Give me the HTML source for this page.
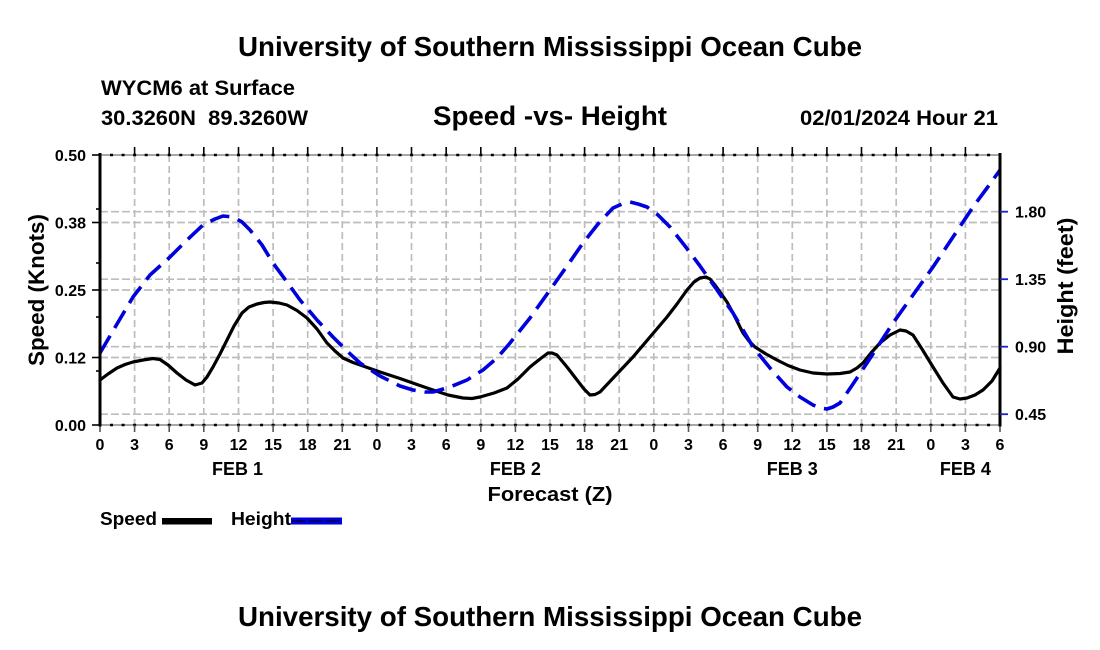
<!DOCTYPE html>
<html>
<head>
<meta charset="utf-8">
<style>
  html,body{margin:0;padding:0;background:#fff;}
  svg{display:block;}
  text{font-family:"Liberation Sans","Helvetica",Arial,sans-serif;font-weight:bold;fill:#000;}
</style>
</head>
<body>
<svg width="1100" height="650" viewBox="0 0 1100 650" xmlns="http://www.w3.org/2000/svg">
  <rect x="0" y="0" width="1100" height="650" fill="#fff"/>

  <!-- Titles -->
  <text x="550" y="56" font-size="27.5" text-anchor="middle" textLength="624" lengthAdjust="spacingAndGlyphs">University of Southern Mississippi Ocean Cube</text>
  <text x="101" y="95" font-size="21.5" textLength="194" lengthAdjust="spacingAndGlyphs">WYCM6 at Surface</text>
  <text x="101" y="125" font-size="21.5" textLength="207" lengthAdjust="spacingAndGlyphs" xml:space="preserve">30.3260N  89.3260W</text>
  <text x="550" y="125" font-size="27" text-anchor="middle" textLength="234" lengthAdjust="spacingAndGlyphs">Speed -vs- Height</text>
  <text x="998" y="125" font-size="21.5" text-anchor="end" textLength="198" lengthAdjust="spacingAndGlyphs">02/01/2024 Hour 21</text>

  <!-- Grid: vertical -->
  <g stroke="#bdbdbd" stroke-width="1.7" stroke-dasharray="7,4" fill="none">
    <line x1="134.6" y1="155" x2="134.6" y2="425"/>
    <line x1="169.2" y1="155" x2="169.2" y2="425"/>
    <line x1="203.8" y1="155" x2="203.8" y2="425"/>
    <line x1="238.5" y1="155" x2="238.5" y2="425"/>
    <line x1="273.1" y1="155" x2="273.1" y2="425"/>
    <line x1="307.7" y1="155" x2="307.7" y2="425"/>
    <line x1="342.3" y1="155" x2="342.3" y2="425"/>
    <line x1="376.9" y1="155" x2="376.9" y2="425"/>
    <line x1="411.5" y1="155" x2="411.5" y2="425"/>
    <line x1="446.2" y1="155" x2="446.2" y2="425"/>
    <line x1="480.8" y1="155" x2="480.8" y2="425"/>
    <line x1="515.4" y1="155" x2="515.4" y2="425"/>
    <line x1="550" y1="155" x2="550" y2="425"/>
    <line x1="584.6" y1="155" x2="584.6" y2="425"/>
    <line x1="619.2" y1="155" x2="619.2" y2="425"/>
    <line x1="653.8" y1="155" x2="653.8" y2="425"/>
    <line x1="688.5" y1="155" x2="688.5" y2="425"/>
    <line x1="723.1" y1="155" x2="723.1" y2="425"/>
    <line x1="757.7" y1="155" x2="757.7" y2="425"/>
    <line x1="792.3" y1="155" x2="792.3" y2="425"/>
    <line x1="826.9" y1="155" x2="826.9" y2="425"/>
    <line x1="861.5" y1="155" x2="861.5" y2="425"/>
    <line x1="896.2" y1="155" x2="896.2" y2="425"/>
    <line x1="930.8" y1="155" x2="930.8" y2="425"/>
    <line x1="965.4" y1="155" x2="965.4" y2="425"/>
  </g>
  <!-- Grid: horizontal -->
  <g stroke="#bdbdbd" stroke-width="1.7" stroke-dasharray="8,3" fill="none">
    <line x1="100" y1="211.7" x2="1000" y2="211.7"/>
    <line x1="100" y1="222.5" x2="1000" y2="222.5"/>
    <line x1="100" y1="279.2" x2="1000" y2="279.2"/>
    <line x1="100" y1="290" x2="1000" y2="290"/>
    <line x1="100" y1="346.7" x2="1000" y2="346.7"/>
    <line x1="100" y1="357.5" x2="1000" y2="357.5"/>
    <line x1="100" y1="414.2" x2="1000" y2="414.2"/>
  </g>

  <!-- Top & bottom axes (gray line with black dots) -->
  <g fill="none">
    <line x1="100" y1="155" x2="1000" y2="155" stroke="#8a8a8a" stroke-width="1.5"/>
    <line x1="100" y1="155" x2="1000" y2="155" stroke="#000" stroke-width="2.5" stroke-dasharray="3,8.54" stroke-dashoffset="1.5"/>
    <line x1="100" y1="425" x2="1000" y2="425" stroke="#8a8a8a" stroke-width="1.5"/>
    <line x1="100" y1="425" x2="1000" y2="425" stroke="#000" stroke-width="2.5" stroke-dasharray="3,8.54" stroke-dashoffset="1.5"/>
  </g>

  <!-- Top ticks -->
  <g stroke="#000" stroke-width="1.6">
    <line x1="134.6" y1="147" x2="134.6" y2="155"/>
    <line x1="169.2" y1="147" x2="169.2" y2="155"/>
    <line x1="203.8" y1="147" x2="203.8" y2="155"/>
    <line x1="238.5" y1="147" x2="238.5" y2="155"/>
    <line x1="273.1" y1="147" x2="273.1" y2="155"/>
    <line x1="307.7" y1="147" x2="307.7" y2="155"/>
    <line x1="342.3" y1="147" x2="342.3" y2="155"/>
    <line x1="376.9" y1="147" x2="376.9" y2="155"/>
    <line x1="411.5" y1="147" x2="411.5" y2="155"/>
    <line x1="446.2" y1="147" x2="446.2" y2="155"/>
    <line x1="480.8" y1="147" x2="480.8" y2="155"/>
    <line x1="515.4" y1="147" x2="515.4" y2="155"/>
    <line x1="550" y1="147" x2="550" y2="155"/>
    <line x1="584.6" y1="147" x2="584.6" y2="155"/>
    <line x1="619.2" y1="147" x2="619.2" y2="155"/>
    <line x1="653.8" y1="147" x2="653.8" y2="155"/>
    <line x1="688.5" y1="147" x2="688.5" y2="155"/>
    <line x1="723.1" y1="147" x2="723.1" y2="155"/>
    <line x1="757.7" y1="147" x2="757.7" y2="155"/>
    <line x1="792.3" y1="147" x2="792.3" y2="155"/>
    <line x1="826.9" y1="147" x2="826.9" y2="155"/>
    <line x1="861.5" y1="147" x2="861.5" y2="155"/>
    <line x1="896.2" y1="147" x2="896.2" y2="155"/>
    <line x1="930.8" y1="147" x2="930.8" y2="155"/>
    <line x1="965.4" y1="147" x2="965.4" y2="155"/>
  </g>
  <!-- Bottom ticks -->
  <g stroke="#555" stroke-width="1.6">
    <line x1="100" y1="425" x2="100" y2="432"/>
    <line x1="134.6" y1="425" x2="134.6" y2="432"/>
    <line x1="169.2" y1="425" x2="169.2" y2="432"/>
    <line x1="203.8" y1="425" x2="203.8" y2="432"/>
    <line x1="238.5" y1="425" x2="238.5" y2="432"/>
    <line x1="273.1" y1="425" x2="273.1" y2="432"/>
    <line x1="307.7" y1="425" x2="307.7" y2="432"/>
    <line x1="342.3" y1="425" x2="342.3" y2="432"/>
    <line x1="376.9" y1="425" x2="376.9" y2="432"/>
    <line x1="411.5" y1="425" x2="411.5" y2="432"/>
    <line x1="446.2" y1="425" x2="446.2" y2="432"/>
    <line x1="480.8" y1="425" x2="480.8" y2="432"/>
    <line x1="515.4" y1="425" x2="515.4" y2="432"/>
    <line x1="550" y1="425" x2="550" y2="432"/>
    <line x1="584.6" y1="425" x2="584.6" y2="432"/>
    <line x1="619.2" y1="425" x2="619.2" y2="432"/>
    <line x1="653.8" y1="425" x2="653.8" y2="432"/>
    <line x1="688.5" y1="425" x2="688.5" y2="432"/>
    <line x1="723.1" y1="425" x2="723.1" y2="432"/>
    <line x1="757.7" y1="425" x2="757.7" y2="432"/>
    <line x1="792.3" y1="425" x2="792.3" y2="432"/>
    <line x1="826.9" y1="425" x2="826.9" y2="432"/>
    <line x1="861.5" y1="425" x2="861.5" y2="432"/>
    <line x1="896.2" y1="425" x2="896.2" y2="432"/>
    <line x1="930.8" y1="425" x2="930.8" y2="432"/>
    <line x1="965.4" y1="425" x2="965.4" y2="432"/>
    <line x1="1000" y1="425" x2="1000" y2="432"/>
  </g>

  <!-- Speed curve -->
  <path fill="none" stroke="#000" stroke-width="3.2" stroke-linejoin="round" stroke-linecap="round"
    d="M100,380 L108,374 L117,368 L125,364.5 L133,362 L143,360 L153,358.5 L160,359.5 L168,365 L177,373 L186,380 L195,385 L202,383 L207,377 L213,367 L220,354 L227,340 L234,326 L242,313 L249,307 L257,304 L264,302.5 L270,302 L279,303 L287,305 L297,310.5 L307,318 L317,329 L327,343 L335,351 L343,358 L353,362.5 L363,366 L380,372 L400,378.5 L417,384.5 L433,390 L448,395 L463,398 L472,398.5 L480,397 L494,393 L507,388 L518,379 L530,367 L540,359 L548,353 L552,353 L557,355 L567,367 L577,380 L584,389 L590,395 L595,394.5 L600,392 L616,375 L633,357 L650,337 L667,317 L677,304 L687,290 L694,282 L700,278 L706,277 L710,279 L715,285 L720,292 L727,302 L733,313 L738,323 L743,333 L749,341 L755,347 L766,354 L777,360 L788,365.5 L800,370 L813,373 L827,374 L840,373.5 L850,372 L857,368 L863,363 L871,353 L880,343 L890,335 L900,330 L906,331 L913,335 L922,349 L933,367 L943,383 L953,397 L960,399 L967,398 L975,395 L983,390 L992,381 L1000,368"/>

  <!-- Height curve -->
  <path fill="none" stroke="#0000dd" stroke-width="3.6" stroke-dasharray="20,9" stroke-linejoin="round"
    d="M100,353 L117,324 L133,297 L150,275 L170,257 L187,240 L203,225 L215,219 L223,216 L233,217 L242,222 L250,230 L262,245 L273,263 L287,282 L300,300 L317,320 L333,337 L347,351 L360,363 L380,376 L400,386 L413,390 L425,392 L433,392 L450,387 L467,380 L483,370 L497,358 L510,343 L530,318 L550,290 L567,266 L583,243 L598,224 L613,208 L622,204 L630,202 L638,204 L647,207 L658,215 L670,227 L685,246 L700,266 L717,290 L733,313 L753,347 L770,368 L787,387 L800,397 L813,405 L820,408 L827,409 L833,407 L840,403 L853,384 L867,363 L880,343 L893,323 L913,295 L933,267 L953,237 L973,207 L987,188 L1000,170"/>

  <!-- Left axis -->
  <line x1="100" y1="153" x2="100" y2="426.5" stroke="#000" stroke-width="3"/>
  <g stroke="#000" stroke-width="1.6">
    <line x1="92" y1="155" x2="100" y2="155"/>
    <line x1="92" y1="222.5" x2="100" y2="222.5"/>
    <line x1="92" y1="290" x2="100" y2="290"/>
    <line x1="92" y1="357.5" x2="100" y2="357.5"/>
    <line x1="92" y1="425" x2="100" y2="425"/>
    <line x1="96" y1="209" x2="100" y2="209"/>
    <line x1="96" y1="263" x2="100" y2="263"/>
    <line x1="96" y1="317" x2="100" y2="317"/>
    <line x1="96" y1="371" x2="100" y2="371"/>
  </g>
  <g font-size="16" text-anchor="end">
    <text x="86" y="161">0.50</text>
    <text x="86" y="228.5">0.38</text>
    <text x="86" y="296">0.25</text>
    <text x="86" y="363.5">0.12</text>
    <text x="86" y="431">0.00</text>
  </g>

  <!-- Right axis -->
  <line x1="1000" y1="153" x2="1000" y2="426.5" stroke="#000" stroke-width="3"/>
  <g stroke="#2020c0" stroke-width="1.8">
    <line x1="1000" y1="211.7" x2="1008" y2="211.7"/>
    <line x1="1000" y1="279.2" x2="1008" y2="279.2"/>
    <line x1="1000" y1="346.7" x2="1008" y2="346.7"/>
    <line x1="1000" y1="414.2" x2="1008" y2="414.2"/>
  </g>
  <g font-size="16">
    <text x="1015" y="217.7">1.80</text>
    <text x="1015" y="285.2">1.35</text>
    <text x="1015" y="352.7">0.90</text>
    <text x="1015" y="420.2">0.45</text>
  </g>

  <!-- Axis titles -->
  <text transform="translate(44,290) rotate(-90)" font-size="22" text-anchor="middle" textLength="152" lengthAdjust="spacingAndGlyphs">Speed (Knots)</text>
  <text transform="translate(1073,286) rotate(-90)" font-size="22" text-anchor="middle" textLength="137" lengthAdjust="spacingAndGlyphs">Height (feet)</text>

  <!-- X tick labels -->
  <g font-size="16" text-anchor="middle">
    <text x="100" y="450">0</text>
    <text x="134.6" y="450">3</text>
    <text x="169.2" y="450">6</text>
    <text x="203.8" y="450">9</text>
    <text x="238.5" y="450">12</text>
    <text x="273.1" y="450">15</text>
    <text x="307.7" y="450">18</text>
    <text x="342.3" y="450">21</text>
    <text x="376.9" y="450">0</text>
    <text x="411.5" y="450">3</text>
    <text x="446.2" y="450">6</text>
    <text x="480.8" y="450">9</text>
    <text x="515.4" y="450">12</text>
    <text x="550" y="450">15</text>
    <text x="584.6" y="450">18</text>
    <text x="619.2" y="450">21</text>
    <text x="653.8" y="450">0</text>
    <text x="688.5" y="450">3</text>
    <text x="723.1" y="450">6</text>
    <text x="757.7" y="450">9</text>
    <text x="792.3" y="450">12</text>
    <text x="826.9" y="450">15</text>
    <text x="861.5" y="450">18</text>
    <text x="896.2" y="450">21</text>
    <text x="930.8" y="450">0</text>
    <text x="965.4" y="450">3</text>
    <text x="1000" y="450">6</text>
  </g>
  <g font-size="18" text-anchor="middle">
    <text x="237.5" y="475">FEB 1</text>
    <text x="515.4" y="475">FEB 2</text>
    <text x="792.3" y="475">FEB 3</text>
    <text x="965.4" y="475">FEB 4</text>
  </g>
  <text x="550" y="501" font-size="20" text-anchor="middle" textLength="125" lengthAdjust="spacingAndGlyphs">Forecast (Z)</text>

  <!-- Legend -->
  <text x="100" y="525" font-size="18" textLength="57" lengthAdjust="spacingAndGlyphs">Speed</text>
  <rect x="162" y="518" width="50" height="6.5" fill="#000"/>
  <text x="231" y="525" font-size="18" textLength="60" lengthAdjust="spacingAndGlyphs">Height</text>
  <rect x="291" y="517.5" width="51" height="7" fill="#0000dd"/>
  <line x1="292" y1="521" x2="342" y2="521" stroke="#000066" stroke-width="2" stroke-dasharray="13,4"/>

  <!-- Bottom title -->
  <text x="550" y="626" font-size="27.5" text-anchor="middle" textLength="624" lengthAdjust="spacingAndGlyphs">University of Southern Mississippi Ocean Cube</text>
</svg>
</body>
</html>
